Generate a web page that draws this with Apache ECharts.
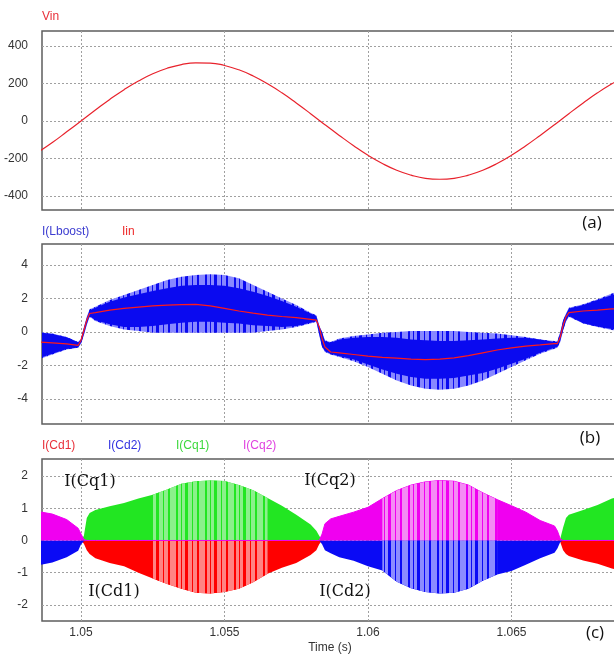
<!DOCTYPE html>
<html>
<head>
<meta charset="utf-8">
<script src="https://cdn.jsdelivr.net/npm/echarts@6/dist/echarts.min.js"></script>
<style>
html, body { margin: 0; padding: 0; background: #fff; }
#chart { width: 614px; height: 654px; }
</style>
</head>
<body>
<div id="chart"></div>
<script>
// ---- data ----
var timeVin = [1.0485, 1.049, 1.0495, 1.05, 1.0505, 1.051, 1.0515, 1.052, 1.0525, 1.053, 1.0535,
    1.054, 1.0545, 1.055, 1.0555, 1.056, 1.0565, 1.057, 1.0575, 1.058, 1.0585, 1.059, 1.0595,
    1.06, 1.0605, 1.061, 1.0615, 1.062, 1.0625, 1.063, 1.0635, 1.064, 1.0645, 1.065, 1.0655,
    1.066, 1.0665, 1.067, 1.0675, 1.068, 1.0685, 1.069, 1.0695];
var vin = [-167, -115, -58, 0, 58, 115, 167, 213, 252, 281, 301, 310, 309, 296, 273, 240, 198,
    150, 96, 39, -20, -77, -132, -183, -227, -263, -289, -306, -311, -306, -289, -263, -227,
    -183, -132, -77, -20, 39, 96, 150, 198, 240, 273];

// time points for the switching waveforms (b) and (c)
var tSw = [1.0485, 1.049, 1.0495, 1.0499,
    1.05, 1.0501, 1.0502, 1.0503,
    1.0505, 1.051, 1.0515, 1.052, 1.0525, 1.053, 1.0535, 1.054, 1.0545, 1.055, 1.0555, 1.056, 1.0565, 1.057, 1.0575, 1.058,
    1.0582, 1.0583, 1.0584, 1.0585, 1.0587,
    1.059, 1.0595, 1.06, 1.0605, 1.061, 1.0615, 1.062, 1.0625, 1.063, 1.0635, 1.064, 1.0645, 1.065, 1.0655, 1.066, 1.0665,
    1.0666, 1.0667, 1.0668, 1.0669, 1.067,
    1.0675, 1.068, 1.0685, 1.069, 1.0693];

// I(Lboost) ripple envelope, outer (sparse pulses) and inner (dense)
var lbHi = [0.0, -0.1, -0.3, -0.6,
    -0.4, 0.3, 0.9, 1.35,
    1.5, 1.9, 2.2, 2.5, 2.8, 3.1, 3.3, 3.4, 3.45, 3.4, 3.2, 2.8, 2.4, 2.0, 1.6, 1.15,
    1.0, 0.4, 0.0, -0.5, -0.6,
    -0.4, -0.25, -0.15, -0.05, 0.0, 0.05, 0.05, 0.05, 0.05, 0.0, -0.05, -0.1, -0.2, -0.3, -0.45, -0.55,
    -0.55, 0.0, 0.7, 1.1, 1.45,
    1.65, 1.95, 2.3, 2.55, 2.7];
var lbLo = [-1.65, -1.35, -1.05, -0.95,
    -0.7, -0.2, 0.4, 0.9,
    0.65, 0.35, 0.15, 0.05, -0.05, -0.05, -0.05, -0.05, -0.05, -0.05, -0.05, -0.05, 0.05, 0.15, 0.3, 0.5,
    0.6, -0.2, -0.9, -1.2, -1.35,
    -1.5, -1.75, -2.1, -2.5, -2.9, -3.2, -3.4, -3.45, -3.4, -3.2, -2.9, -2.5, -2.1, -1.7, -1.3, -1.0,
    -0.95, -0.6, 0.1, 0.6, 0.9,
    0.5, 0.3, 0.12, 0.02, -0.02];
var lbHiIn = [-0.02, -0.12, -0.32, -0.62,
    -0.45, 0.25, 0.85, 1.3,
    1.45, 1.8, 2.05, 2.25, 2.45, 2.6, 2.75, 2.8, 2.8, 2.75, 2.6, 2.4, 2.15, 1.85, 1.5, 1.1,
    0.95, 0.35, -0.05, -0.55, -0.65,
    -0.45, -0.35, -0.3, -0.3, -0.35, -0.45, -0.5, -0.55, -0.55, -0.5, -0.45, -0.4, -0.35, -0.35, -0.45, -0.6,
    -0.6, -0.05, 0.65, 1.05, 1.4,
    1.6, 1.9, 2.2, 2.45, 2.6];
var lbLoIn = [-1.6, -1.3, -1.02, -0.93,
    -0.65, -0.15, 0.45, 0.95,
    0.7, 0.45, 0.3, 0.3, 0.35, 0.45, 0.55, 0.6, 0.6, 0.55, 0.5, 0.4, 0.35, 0.3, 0.35, 0.55,
    0.65, -0.15, -0.85, -1.15, -1.3,
    -1.45, -1.65, -1.95, -2.25, -2.5, -2.7, -2.8, -2.8, -2.75, -2.6, -2.45, -2.2, -1.9, -1.6, -1.25, -0.95,
    -0.9, -0.55, 0.15, 0.65, 0.95,
    0.52, 0.33, 0.17, 0.08, 0.05];
var iin = [-0.6, -0.65, -0.72, -0.8,
    -0.5, 0.1, 0.7, 1.1,
    1.15, 1.3, 1.4, 1.48, 1.55, 1.6, 1.63, 1.65, 1.55, 1.4, 1.25, 1.12, 1.0, 0.92, 0.85, 0.75,
    0.7, 0.3, -0.4, -0.9, -1.2,
    -1.25, -1.35, -1.45, -1.52, -1.57, -1.62, -1.65, -1.63, -1.55, -1.42, -1.25, -1.08, -0.95, -0.85, -0.78, -0.7,
    -0.7, -0.3, 0.4, 0.9, 1.15,
    1.25, 1.3, 1.37, 1.42, 1.45];

// capacitor current envelopes
var cq1 = [0, 0, 0, 0,
    0, 0.15, 0.7, 0.85,
    0.95, 1.06, 1.16, 1.3, 1.42, 1.58, 1.76, 1.84, 1.86, 1.85, 1.72, 1.56, 1.32, 1.08, 0.8, 0.5,
    0.3, 0.15, 0, 0, 0,
    0, 0, 0, 0, 0, 0, 0, 0, 0, 0, 0, 0, 0, 0, 0, 0,
    0, 0.05, 0.4, 0.7, 0.8,
    0.95, 1.1, 1.3, 1.45, 1.55];
var cd1 = [0, 0, 0, 0,
    0, -0.1, -0.3, -0.42,
    -0.55, -0.7, -0.8, -1.0, -1.18, -1.35, -1.5, -1.62, -1.65, -1.6, -1.5, -1.3, -1.03, -0.85, -0.7, -0.45,
    -0.3, -0.12, 0, 0, 0,
    0, 0, 0, 0, 0, 0, 0, 0, 0, 0, 0, 0, 0, 0, 0, 0,
    0, -0.05, -0.3, -0.42, -0.48,
    -0.62, -0.72, -0.87, -0.98, -1.05];
var cq2 = [0.9, 0.82, 0.65, 0.38,
    0.2, 0.03, 0, 0,
    0, 0, 0, 0, 0, 0, 0, 0, 0, 0, 0, 0, 0, 0, 0, 0,
    0, 0, 0.2, 0.52, 0.67,
    0.75, 0.88, 1.03, 1.3, 1.55, 1.72, 1.82, 1.86, 1.84, 1.72, 1.48, 1.27, 1.08, 0.88, 0.62, 0.45,
    0.3, 0.05, 0, 0, 0,
    0, 0, 0, 0, 0];
var cd2 = [-0.77, -0.68, -0.52, -0.32,
    -0.12, -0.02, 0, 0,
    0, 0, 0, 0, 0, 0, 0, 0, 0, 0, 0, 0, 0, 0, 0, 0,
    0, 0, -0.12, -0.3, -0.4,
    -0.52, -0.63, -0.8, -0.93, -1.28, -1.48, -1.6, -1.65, -1.62, -1.5, -1.25, -1.06, -0.95, -0.75, -0.55, -0.38,
    -0.25, -0.05, 0, 0, 0,
    0, 0, 0, 0, 0];

// where the pulses thin out (light shaded)
var sparseSpans = [[1.0525, 1.0565], [1.0605, 1.0645]];

var timeTicks = [1.05, 1.055, 1.06, 1.065];
var vinTicks = [-400, -200, 0, 200, 400];
var lbTicks = [-4, -2, 0, 2, 4];
var capTicks = [-2, -1, 0, 1, 2];

// ---- helpers ----
function pairs(t, v) {
    return t.map(function (x, i) { return [x, v[i]]; });
}

function sparse(t, v) {
    return t.map(function (x, i) {
        var inside = sparseSpans.some(function (s) { return x >= s[0] && x <= s[1]; });
        return [x, inside ? v[i] : null];
    });
}

function stripes(light, dark) {
    var c = document.createElement('canvas');
    c.width = 29;
    c.height = 8;
    var g = c.getContext('2d');
    g.fillStyle = light;
    g.fillRect(0, 0, 29, 8);
    g.fillStyle = dark;
    [[2, 2], [7, 1], [11, 3], [18, 1], [23, 2]].forEach(function (s) {
        g.fillRect(s[0], 0, s[1], 8);
    });
    return {image: c, repeat: 'repeat'};
}

// filled band between two envelopes, drawn through the grid's own scales
function band(lo, hi, fill, z) {
    return {
        type: 'custom', xAxisIndex: 1, yAxisIndex: 1, silent: true, z: z, clip: true,
        data: [[tSw[10], 0]],
        renderItem: function (params, api) {
            var up = tSw.map(function (t, i) { return api.coord([t, hi[i]]); });
            var dn = tSw.map(function (t, i) { return api.coord([t, lo[i]]); }).reverse();
            var cs = params.coordSys;
            return {
                type: 'polygon',
                shape: {points: up.concat(dn)},
                style: {fill: fill},
                clipPath: {type: 'rect', shape: {x: cs.x, y: cs.y, width: cs.width, height: cs.height}}
            };
        }
    };
}

function capArea(v, color, z, line) {
    return {
        type: 'line', xAxisIndex: 2, yAxisIndex: 2, data: pairs(tSw, v),
        showSymbol: false, silent: true, z: z,
        lineStyle: line ? {color: color, width: 1} : {opacity: 0},
        areaStyle: {color: color, opacity: 1}
    };
}

function capSparse(v, light, dark, z) {
    return {
        type: 'line', xAxisIndex: 2, yAxisIndex: 2, data: sparse(tSw, v),
        showSymbol: false, silent: true, z: z,
        lineStyle: {opacity: 0},
        areaStyle: {color: stripes(light, dark), opacity: 1}
    };
}

var axisFont = {fontFamily: 'Liberation Sans', fontSize: 12, color: '#333'};
var dotted = {show: true, lineStyle: {color: '#a0a0a0', type: [2, 2], width: 1}};

function xAx(idx, labels) {
    return {
        type: 'value', gridIndex: idx, min: 1.04864, max: 1.06927,
        axisLine: {show: false},
        axisTick: {show: false, customValues: timeTicks},
        splitLine: dotted,
        axisLabel: labels ? Object.assign({
            show: true, margin: 6, customValues: timeTicks,
            formatter: function (v) { return String(v); }
        }, axisFont) : {show: false}
    };
}

function yAx(idx, min, max, ticks) {
    return {
        type: 'value', gridIndex: idx, min: min, max: max,
        axisLine: {show: false},
        axisTick: {show: false, customValues: ticks},
        splitLine: dotted,
        axisLabel: Object.assign({margin: 14, customValues: ticks}, axisFont)
    };
}

// the plot runs past the right edge of the window, as in the scope capture
var gridStyle = {
    show: true, borderColor: '#5e5e5e', borderWidth: 1.5, backgroundColor: '#fff',
    left: 42, width: 592, outerBoundsMode: 'none', containLabel: false
};

var series = [
    {
        type: 'line', xAxisIndex: 0, yAxisIndex: 0, data: pairs(timeVin, vin),
        smooth: true, showSymbol: false, z: 3,
        lineStyle: {color: '#e8222c', width: 1.2}
    },
    band(lbLo, lbHi, stripes('#8888ff', '#0a0af0'), 2),
    band(lbLoIn, lbHiIn, '#0a0af0', 2),
    {
        type: 'line', xAxisIndex: 1, yAxisIndex: 1, data: pairs(tSw, iin),
        showSymbol: false, z: 3,
        lineStyle: {color: '#ff1a1a', width: 1.2}
    },
    capArea(cq1, '#22e622', 2),
    capArea(cd1, '#ff0000', 2),
    capArea(cd2, '#0a0af5', 2),
    capSparse(cq1, '#8cf08c', '#22e622', 3),
    capSparse(cd1, '#ff8484', '#ff0000', 3),
    capArea(cq2, '#f000f0', 4, true),
    capSparse(cq2, '#f48cf4', '#f000f0', 5),
    capSparse(cd2, '#8c8cff', '#0a0af5', 5)
];

function txt(x, y, s, fill, font, align) {
    return {
        type: 'text', x: x, y: y, silent: true, z: 100,
        style: {text: s, fill: fill, font: font, align: align || 'left', verticalAlign: 'middle'}
    };
}

var small = '12px "Liberation Sans"';
var tag = '17px "Open Sans"';
var note = '16px "DejaVu Serif"';

var chart = echarts.init(document.getElementById('chart'), null, {renderer: 'canvas'});
chart.setOption({
    animation: false,
    backgroundColor: '#fff',
    grid: [
        Object.assign({top: 31, height: 179}, gridStyle),
        Object.assign({top: 244, height: 180}, gridStyle),
        Object.assign({top: 459, height: 162}, gridStyle)
    ],
    xAxis: [xAx(0, false), xAx(1, false), xAx(2, true)],
    yAxis: [
        yAx(0, -475, 480, vinTicks),
        yAx(1, -5.5, 5.25, lbTicks),
        yAx(2, -2.5, 2.53, capTicks)
    ],
    series: series,
    graphic: [
        txt(42, 17, 'Vin', '#e8303a', small),
        txt(42, 232, 'I(Lboost)', '#3c3cd0', small),
        txt(122, 232, 'Iin', '#ee2a2a', small),
        txt(42, 446, 'I(Cd1)', '#e8303a', small),
        txt(108, 446, 'I(Cd2)', '#3232e0', small),
        txt(176, 446, 'I(Cq1)', '#3cd83c', small),
        txt(243, 446, 'I(Cq2)', '#e040e0', small),
        txt(592, 223, '(a)', '#111', tag, 'center'),
        txt(590, 438, '(b)', '#111', tag, 'center'),
        txt(595, 633, '(c)', '#111', tag, 'center'),
        txt(330, 648, 'Time (s)', '#333', small, 'center'),
        txt(90, 482, 'I(Cq1)', '#111', note, 'center'),
        txt(114, 592, 'I(Cd1)', '#111', note, 'center'),
        txt(330, 481, 'I(Cq2)', '#111', note, 'center'),
        txt(345, 592, 'I(Cd2)', '#111', note, 'center')
    ]
});
</script>
</body>
</html>
